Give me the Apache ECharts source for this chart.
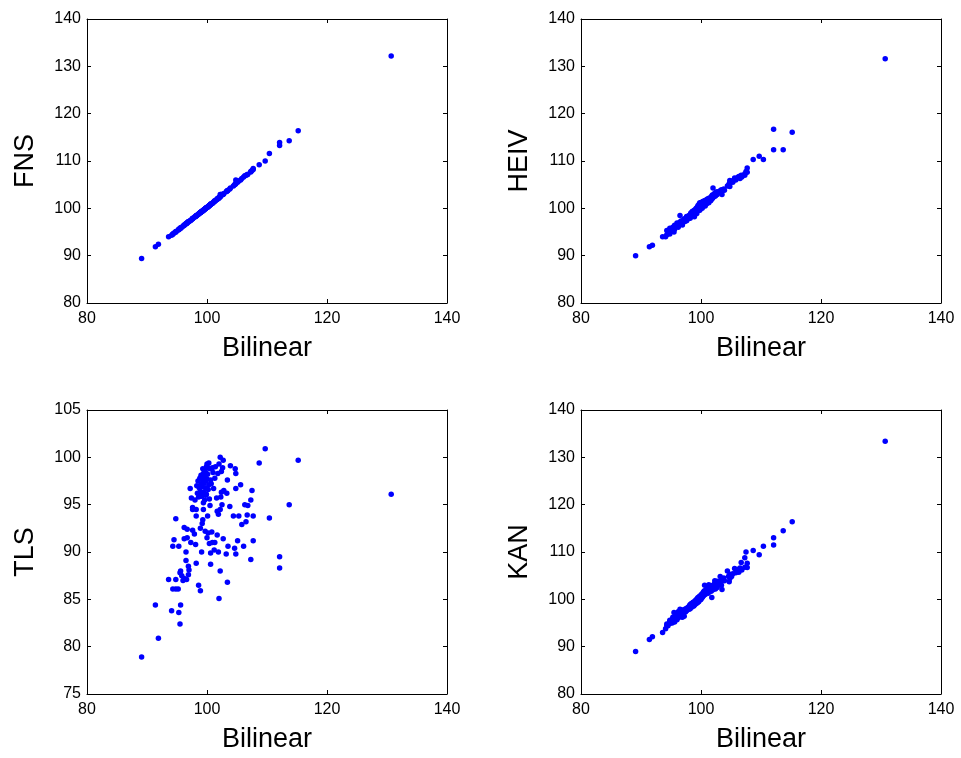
<!DOCTYPE html>
<html>
<head>
<meta charset="utf-8">
<script src="https://cdn.jsdelivr.net/npm/echarts@6/dist/echarts.min.js"></script>
<style>
  html, body { margin: 0; padding: 0; background: #fff; }
  #chart { width: 961px; height: 758px; }
</style>
</head>
<body>
<div id="chart"></div>
<script>
// shared x values (Bilinear), one entry per point
var bilinear = [
  89.1, 91.4, 91.9, 93.6, 94.1, 94.3, 94.3, 94.5, 94.8, 94.8,
  94.8, 95.2, 95.3, 95.3, 95.5, 95.5, 95.6, 95.6, 95.8, 96.0,
  96.2, 96.2, 96.2, 96.5, 96.5, 96.6, 96.7, 96.7, 96.9, 96.9,
  97.0, 97.2, 97.3, 97.4, 97.6, 97.6, 97.6, 97.9, 98.0, 98.1,
  98.2, 98.2, 98.2, 98.3, 98.4, 98.5, 98.6, 98.6, 98.7, 98.8,
  98.9, 98.9, 98.9, 99.0, 99.0, 99.1, 99.1, 99.2, 99.2, 99.3,
  99.3, 99.4, 99.4, 99.4, 99.5, 99.5, 99.6, 99.6, 99.7, 99.7,
  99.8, 99.8, 99.9, 99.9, 100.0, 100.0, 100.1, 100.1, 100.2, 100.2,
  100.3, 100.3, 100.4, 100.4, 100.5, 100.5, 100.6, 100.6, 100.6, 100.8,
  100.9, 101.0, 101.1, 101.2, 101.3, 101.4, 101.6, 101.7, 101.7, 101.8,
  101.9, 101.9, 102.0, 102.0, 102.2, 102.2, 102.2, 102.3, 102.4, 102.4,
  102.5, 102.6, 102.7, 102.7, 102.8, 103.2, 103.3, 103.4, 103.4, 103.5,
  103.8, 103.9, 104.4, 104.6, 104.7, 104.8, 104.8, 104.8, 105.1, 105.3,
  105.6, 105.8, 106.1, 106.3, 106.5, 106.7, 106.8, 107.3, 107.3, 107.5,
  107.7, 107.7, 108.7, 109.7, 110.4, 112.1, 112.1, 113.7, 115.2, 130.7,
  99.0, 99.6, 100.2, 99.8, 100.0, 98.8, 99.3, 100.7, 101.3, 100.9
];

var fns = [
  89.4, 91.9, 92.4, 94.0, 94.3, 94.6, 94.5, 94.8, 95.0, 95.1,
  95.0, 95.4, 95.6, 95.5, 95.8, 95.7, 95.9, 95.8, 96.0, 96.2,
  96.4, 96.5, 96.4, 96.7, 96.8, 96.8, 97.0, 96.9, 97.1, 97.2,
  97.2, 97.4, 97.5, 97.6, 97.8, 97.8, 97.9, 98.1, 98.2, 98.3,
  98.4, 98.4, 98.5, 98.5, 98.6, 98.7, 98.8, 98.8, 98.9, 99.0,
  99.1, 99.1, 99.1, 99.2, 99.2, 99.3, 99.3, 99.4, 99.4, 99.5,
  99.5, 99.6, 99.6, 99.6, 99.7, 99.7, 99.8, 99.8, 99.9, 99.9,
  100.0, 100.0, 100.1, 100.1, 100.2, 100.2, 100.3, 100.3, 100.4, 100.4,
  100.5, 100.5, 100.6, 100.6, 100.7, 100.7, 100.8, 100.9, 100.8, 101.0,
  101.1, 101.2, 101.3, 101.5, 101.6, 101.6, 101.8, 101.9, 102.0, 102.0,
  102.1, 102.2, 102.3, 102.2, 102.5, 102.4, 102.9, 102.9, 102.7, 102.8,
  102.9, 102.9, 103.0, 103.0, 103.1, 103.5, 103.6, 103.7, 103.7, 103.8,
  104.1, 104.3, 104.7, 105.0, 105.1, 105.2, 106.0, 105.3, 105.5, 105.8,
  106.0, 106.3, 106.6, 106.9, 107.0, 107.1, 107.2, 107.7, 107.8, 108.0,
  108.2, 108.4, 109.2, 110.0, 111.6, 113.9, 113.3, 114.3, 116.4, 132.2,
  99.2, 99.8, 100.4, 100.0, 100.2, 99.0, 99.5, 100.9, 101.5, 101.1
];

var heiv = [
  90.0, 91.9, 92.2, 94.0, 94.0, 94.4, 95.3, 95.0, 95.8, 94.6,
  95.4, 95.2, 96.0, 95.4, 95.0, 96.1, 95.6, 96.4, 96.2, 96.9,
  96.3, 96.8, 96.0, 98.5, 97.1, 96.6, 97.3, 96.9, 96.5, 97.4,
  97.0, 97.8, 97.2, 97.5, 98.0, 97.4, 98.3, 97.8, 98.5, 98.2,
  97.9, 98.7, 98.4, 99.0, 98.3, 99.2, 98.6, 99.4, 98.5, 99.3,
  98.9, 99.6, 98.2, 99.2, 99.7, 98.8, 99.5, 99.1, 100.0, 99.4,
  98.9, 99.8, 100.3, 99.5, 99.9, 100.6, 99.6, 100.2, 100.9, 99.7,
  100.4, 101.2, 100.0, 100.7, 100.2, 101.0, 100.5, 101.3, 100.6, 101.1,
  100.4, 101.4, 100.8, 101.5, 101.1, 100.7, 101.6, 101.0, 101.3, 101.7,
  101.1, 101.9, 101.4, 102.0, 101.2, 102.2, 101.6, 102.4, 101.8, 102.6,
  102.1, 102.8, 104.3, 102.3, 102.9, 102.5, 103.1, 102.7, 103.2, 102.6,
  103.4, 103.0, 103.5, 102.9, 103.3, 103.7, 103.4, 103.9, 103.6, 102.9,
  104.1, 103.8, 104.7, 104.9, 105.2, 104.6, 105.9, 105.4, 105.8, 105.5,
  106.4, 106.0, 106.5, 106.7, 106.3, 107.0, 106.6, 107.3, 107.0, 107.8,
  108.5, 107.6, 110.3, 111.0, 110.3, 116.7, 112.4, 112.4, 116.1, 131.6,
  99.0, 100.0, 100.0, 99.6, 100.9, 99.1, 99.9, 100.5, 101.8, 100.9
];

var tls = [
  78.9, 84.4, 80.9, 87.1, 83.8, 86.1, 90.6, 91.3, 86.1, 87.1,
  93.5, 86.1, 83.6, 90.6, 82.4, 87.8, 84.4, 88.0, 87.5, 87.0,
  87.2, 91.4, 92.6, 89.1, 90.0, 87.1, 91.5, 92.4, 87.6, 88.5,
  88.1, 96.7, 91.0, 95.7, 92.3, 94.5, 94.7, 91.9, 95.5, 90.8,
  88.8, 93.8, 94.5, 97.0, 96.2, 97.5, 86.5, 95.8, 96.8, 97.8,
  85.9, 92.5, 96.4, 97.2, 98.1, 90.0, 95.9, 93.0, 96.9, 93.4,
  97.6, 94.5, 95.2, 98.3, 96.3, 97.3, 97.9, 98.6, 96.8, 92.2,
  97.5, 98.4, 99.0, 96.1, 97.7, 91.5, 93.8, 98.2, 96.6, 92.0,
  99.4, 97.1, 95.6, 90.9, 94.9, 98.8, 88.7, 89.9, 97.6, 92.1,
  91.0, 98.4, 96.7, 90.2, 91.0, 99.0, 95.7, 91.8, 94.3, 98.3,
  90.0, 94.0, 85.1, 99.3, 88.0, 94.5, 100.0, 95.8, 98.5, 96.3,
  95.0, 98.9, 91.4, 99.7, 96.5, 89.8, 96.2, 86.8, 97.6, 90.6,
  94.8, 99.1, 93.8, 90.4, 98.8, 89.8, 96.7, 98.3, 91.2, 93.8,
  97.1, 92.9, 90.6, 95.0, 93.2, 93.9, 94.9, 89.2, 95.5, 96.5,
  91.2, 93.8, 99.4, 100.9, 93.6, 89.5, 88.3, 95.0, 99.7, 96.1,
  96.0, 95.5, 98.9, 96.0, 99.3, 95.9, 98.8, 97.2, 97.8, 98.9
];

var kan = [
  89.0, 91.5, 92.1, 93.0, 93.8, 94.4, 94.8, 94.4, 95.3, 94.9,
  95.6, 95.0, 95.8, 96.2, 97.2, 95.4, 96.3, 95.2, 96.8, 95.7,
  96.9, 96.1, 97.4, 97.9, 96.5, 97.5, 96.3, 97.8, 96.2, 97.0,
  97.6, 96.4, 97.9, 97.3, 98.1, 97.6, 97.9, 98.4, 97.9, 98.7,
  98.3, 98.9, 98.0, 98.6, 99.1, 98.4, 99.2, 98.8, 99.4, 98.6,
  99.3, 99.0, 99.5, 98.9, 99.6, 99.2, 99.8, 99.1, 99.6, 100.0,
  99.4, 99.7, 100.2, 99.3, 99.9, 100.4, 99.6, 100.1, 99.8, 100.5,
  100.0, 100.7, 100.3, 99.9, 100.8, 100.2, 101.1, 100.6, 100.4, 101.0,
  100.9, 101.3, 100.7, 101.5, 101.0, 101.7, 103.0, 101.2, 101.8, 101.4,
  102.0, 101.6, 102.3, 101.3, 103.1, 101.9, 102.5, 101.7, 102.8, 100.4,
  102.2, 102.6, 102.0, 103.0, 102.4, 103.2, 102.7, 103.9, 102.2, 103.5,
  102.9, 103.3, 102.5, 103.8, 103.1, 104.8, 103.6, 103.0, 104.2, 102.1,
  104.5, 103.9, 106.0, 104.9, 103.7, 105.3, 104.4, 105.0, 104.8, 105.4,
  106.5, 105.6, 106.3, 105.7, 106.6, 107.8, 106.2, 108.8, 106.8, 110.0,
  107.6, 106.7, 110.3, 109.4, 111.2, 113.0, 111.5, 114.5, 116.4, 133.4,
  99.3, 99.5, 100.5, 100.3, 100.0, 98.7, 99.5, 101.0, 102.1, 101.7
];

var xTicks = { min: 80, max: 140, interval: 20 };
var panels = [
  { name: "FNS",  y: fns,  ymin: 80, ymax: 140, yint: 10, left: 87,  top: 19 },
  { name: "HEIV", y: heiv, ymin: 80, ymax: 140, yint: 10, left: 581, top: 19 },
  { name: "TLS",  y: tls,  ymin: 75, ymax: 105, yint: 5,  left: 87,  top: 410 },
  { name: "KAN",  y: kan,  ymin: 80, ymax: 140, yint: 10, left: 581, top: 410 }
];

var chart = echarts.init(document.getElementById("chart"));
var fontFamily = "'Liberation Sans', Arial, sans-serif";
var lineStyle = { color: "#000", width: 1 };

var grid = [], xAxis = [], yAxis = [], series = [];
panels.forEach(function (p, i) {
  grid.push({ left: p.left, top: p.top, width: 360, height: 284, show: false });
  // bottom axis with labels
  xAxis.push({
    type: "value", gridIndex: i, position: "bottom",
    min: xTicks.min, max: xTicks.max, interval: xTicks.interval,
    name: "Bilinear", nameLocation: "middle", nameGap: 32,
    nameTextStyle: { fontSize: 27, color: "#000", fontFamily: fontFamily },
    axisLine: { show: true, lineStyle: lineStyle },
    axisTick: { show: true, inside: true, length: 4, lineStyle: lineStyle },
    axisLabel: { fontSize: 16, color: "#000", margin: 8, fontFamily: fontFamily },
    splitLine: { show: false }
  });
  // top axis, ticks only
  xAxis.push({
    type: "value", gridIndex: i, position: "top",
    min: xTicks.min, max: xTicks.max, interval: xTicks.interval,
    axisLine: { show: true, onZero: false, lineStyle: lineStyle },
    axisTick: { show: true, inside: true, length: 4, lineStyle: lineStyle },
    axisLabel: { show: false },
    splitLine: { show: false }
  });
  yAxis.push({
    type: "value", gridIndex: i, position: "left",
    min: p.ymin, max: p.ymax, interval: p.yint,
    name: p.name, nameLocation: "middle", nameGap: 48, nameRotate: 90,
    nameTextStyle: { fontSize: 27, color: "#000", fontFamily: fontFamily },
    axisLine: { show: true, lineStyle: lineStyle },
    axisTick: { show: true, inside: true, length: 4, lineStyle: lineStyle },
    axisLabel: { fontSize: 16, color: "#000", margin: 6, fontFamily: fontFamily },
    splitLine: { show: false }
  });
  yAxis.push({
    type: "value", gridIndex: i, position: "right",
    min: p.ymin, max: p.ymax, interval: p.yint,
    axisLine: { show: true, onZero: false, lineStyle: lineStyle },
    axisTick: { show: true, inside: true, length: 4, lineStyle: lineStyle },
    axisLabel: { show: false },
    splitLine: { show: false }
  });
  series.push({
    type: "scatter",
    xAxisIndex: i * 2, yAxisIndex: i * 2,
    symbol: "circle", symbolSize: 5.5,
    itemStyle: { color: "#0000ff", opacity: 1 },
    silent: true,
    data: bilinear.map(function (x, k) { return [x, p.y[k]]; })
  });
});

chart.setOption({
  animation: false,
  backgroundColor: "#fff",
  grid: grid,
  xAxis: xAxis,
  yAxis: yAxis,
  series: series
});
</script>
</body>
</html>
